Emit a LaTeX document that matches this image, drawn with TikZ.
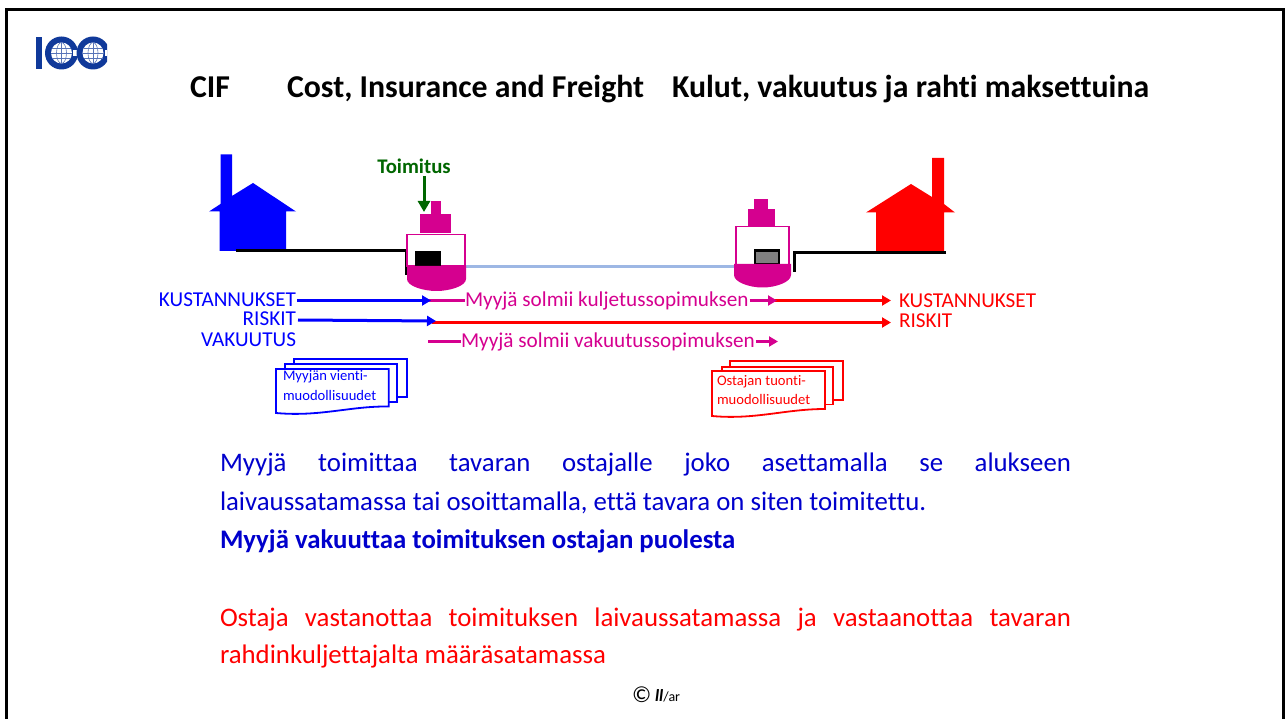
\documentclass[tikz,border=0pt]{standalone}
\usepackage{fontspec}
\setmainfont[Ligatures=NoCommon]{Carlito}
\usetikzlibrary{arrows.meta}
\definecolor{magent}{HTML}{D5008F}
\definecolor{lblue}{HTML}{0000FF}
\definecolor{bodyblue}{HTML}{0000CC}
\definecolor{lred}{HTML}{FF0000}
\definecolor{grn}{HTML}{006600}
\definecolor{seablue}{HTML}{9DB7E4}
\definecolor{iccblue}{HTML}{10399A}
\newcommand{\fsz}[1]{\fontsize{#1}{#1}\selectfont}
\tikzset{
  x=1pt,y=-1pt,
  txt/.style={inner sep=0pt,outer sep=0pt},
  titletxt/.style={txt,anchor=base west,font=\fsz{31.8}\bfseries,text=black},
  bodytxt/.style={txt,anchor=base west,font=\fsz{26.8}},
  lab/.style={txt,font=\fsz{21.2}},
  tip/.style={-{Triangle[length=9pt,width=10pt]}},
  thickline/.style={line width=3pt},
  ground/.style={line width=3pt,black,line join=miter},
  docline/.style={line width=1.8pt,fill=white,line join=miter},
  doctxt/.style={txt,anchor=base west,font=\fsz{14.6}},
}
\begin{document}
\begin{tikzpicture}
\useasboundingbox (0,0) rectangle (1288,719);
% frame
\draw[line width=3.2pt,black] (6.5,719) -- (6.5,9.5) -- (1283.5,9.5) -- (1283.5,719);
% logo
\fill[iccblue] (35.5,37) rectangle (41.5,69);
\begin{scope}
\clip (43,30) rectangle (107,75);
\foreach \cx in {61.5,93}{
  \fill[iccblue] (\cx,53) circle[radius=16.5];
  \fill[white] (\cx,53) circle[radius=10.5];
  \draw[iccblue!70,line width=.6pt] (\cx,53) circle[x radius=5,y radius=10.5];
  \draw[iccblue!70,line width=.6pt] (\cx,42.5) -- (\cx,63.5) (\cx-10.5,53) -- (\cx+10.5,53)
     (\cx-9.5,48) -- (\cx+9.5,48) (\cx-9.5,58) -- (\cx+9.5,58);
  \fill[white] (\cx+11.5,50) rectangle (\cx+18,56);
}
\end{scope}
% title
\node[titletxt] (cif) at (190,98) {CIF};
\node[titletxt] (cost) at (287,98) {Cost, Insurance and Freight};
\node[titletxt] (kulut) at (672,98) {Kulut, vakuutus ja rahti maksettuina};
% seller house
\fill[lblue] (220.5,154.5) -- (232,154.5) -- (232,196) -- (253,183) -- (296,211.5) -- (286,211.5) -- (286,251) -- (219.5,251) -- (219.5,211.5) -- (209,211.5) -- (220.5,204) -- cycle;
% buyer house
\fill[lred] (932,158) -- (944,158) -- (944,204) -- (955,212.5) -- (944,212.5) -- (944,254) -- (876,254) -- (876,212.5) -- (866,212.5) -- (911,184) -- (932,197) -- cycle;
% grounds
\coordinate (gl1) at (236,250.5);
\coordinate (gl2) at (406,250.5);
\coordinate (gl3) at (406,275);
\draw[ground] (gl1) -- (gl2) -- (gl3);
\coordinate (gr1) at (946,253);
\coordinate (gr2) at (794.5,253);
\coordinate (gr3) at (794.5,272);
\draw[ground] (gr1) -- (gr2) -- (gr3);
% sea route
\coordinate (sea1) at (465,267);
\coordinate (sea2) at (735,267);
\draw[line width=3pt,seablue] (sea1) -- (sea2);
% ship 1
\fill[magent] (431,201) rectangle (440.5,215);
\fill[magent] (420,214.5) rectangle (450.5,233.5);
\draw[magent,line width=1.2pt,fill=white] (407,234.5) rectangle (465,266);
\fill[black] (414.5,251) rectangle (441,266);
\fill[magent] (407,266) -- (466,266) -- (466,279) .. controls (466,286) and (450,291) .. (436.5,291) .. controls (423,291) and (407,286) .. (407,279) -- cycle;
% ship 2
\fill[magent] (754,199) rectangle (768,209.5);
\fill[magent] (747.5,209) rectangle (775,226.5);
\draw[magent,line width=1.2pt,fill=white] (736,226.5) rectangle (789,265);
\draw[black,line width=2.6pt,fill=gray] (755,250.5) rectangle (779,264);
\fill[magent] (734,264) -- (791,264) -- (791,275) .. controls (791,282) and (776,287.5) .. (762.5,287.5) .. controls (749,287.5) and (734,282) .. (734,275) -- cycle;
% Toimitus
\node[txt,font=\fsz{20.8}\bfseries,text=grn] (toim) at (414,166) {Toimitus};
\coordinate (toimend) at (424,212);
\draw[grn,line width=3pt,-{Triangle[length=11pt,width=12pt]}] (424,176) -- (toimend);
% labels, left
\node[lab,text=lblue,anchor=base east] (kl) at (296,306.5) {KUSTANNUKSET};
\node[lab,text=lblue,anchor=base east] (rl) at (296,326) {RISKIT};
\node[lab,text=lblue,anchor=base east] (vl) at (296,346) {VAKUUTUS};
% labels, right
\node[lab,text=lred,anchor=base west] (kr) at (899,307.5) {KUSTANNUKSET};
\node[lab,text=lred,anchor=base west] (rr) at (899,328) {RISKIT};
% labels, centre
\node[lab,text=magent,anchor=base west] (kulj) at (465,306.5) {Myyjä solmii kuljetussopimuksen};
\node[lab,text=magent,anchor=base west] (vak) at (461,347.5) {Myyjä solmii vakuutussopimuksen};
% arrow coordinates
\coordinate (k1) at (431,300.5);
\coordinate (k2) at (777,300.5);
\coordinate (k3) at (891,300.5);
\coordinate (r1) at (436,321);
\coordinate (r2) at (432,322.5);
\coordinate (r3) at (891,322.5);
\coordinate (v0) at (428,342);
\coordinate (v2) at (778,341.5);
% rows: costs
\draw[magent,thickline] (429,300.5) -- (kulj.west |- k1);
\draw[lblue,thickline,tip] (kl.east |- k1) ++(1,0) -- (k1);
\draw[lred,thickline,tip] (775,300.5) -- (k3);
\draw[magent,thickline,tip] (kulj.east |- k2) ++(1,0) -- (k2);
% rows: risks
\draw[lred,thickline,tip] (r2) -- (r3);
\draw[lblue,thickline,tip] (rl.east |- r1) ++(2,-1) -- (r1);
% rows: insurance
\draw[magent,thickline] (v0) -- (vak.west |- v0);
\draw[magent,thickline,tip] (vak.east |- v2) ++(1,0) -- (v2);
% seller documents
\draw[lblue,docline] (294,358.7) -- (407,358.7) -- (407,396.7) -- (294,396.7) -- cycle;
\draw[lblue,docline] (285,364) -- (397,364) -- (397,402) -- (285,402) -- cycle;
\draw[lblue,docline] (276,369) -- (388.7,369) -- (388.7,406.5) .. controls (350,406) and (320,417) .. (276,413) -- cycle;
\node[doctxt,text=lblue] (dt1) at (283,381) {Myyjän vienti-};
\node[doctxt,text=lblue] (dt2) at (283,400) {muodollisuudet};
% buyer documents
\draw[lred,docline] (730,361) -- (843,361) -- (843,400) -- (730,400) -- cycle;
\draw[lred,docline] (722,367) -- (833,367) -- (833,404.5) -- (722,404.5) -- cycle;
\draw[lred,docline] (712,371) -- (825,371) -- (825,409) .. controls (785,409) and (755,420) .. (712,416) -- cycle;
\node[doctxt,text=lred] (ot1) at (717,385) {Ostajan tuonti-};
\node[doctxt,text=lred] (ot2) at (717,404) {muodollisuudet};
% body
\node[bodytxt,text=bodyblue] (b1) at (220,471) {\makebox[851pt][s]{Myyjä toimittaa tavaran ostajalle joko asettamalla se alukseen}};
\node[bodytxt,text=bodyblue] (b2) at (220,510) {laivaussatamassa tai osoittamalla, että tavara on siten toimitettu.};
\node[bodytxt,text=bodyblue,font=\fsz{26.8}\bfseries] (b3) at (220,548) {Myyjä vakuuttaa toimituksen ostajan puolesta};
\node[bodytxt,text=lred] (b4) at (220,626) {\makebox[851pt][s]{Ostaja vastanottaa toimituksen laivaussatamassa ja vastaanottaa tavaran}};
\node[bodytxt,text=lred] (b5) at (220,663) {rahdinkuljettajalta määräsatamassa};
% footer
\node[txt,anchor=base west,font=\fsz{23}] (copy) at (632,702) {©};
\node[txt,anchor=base west,font=\fsz{14}] (sign) at (655,701) {{\fsz{17}\textbf{\textit{ll}}}/ar};
\end{tikzpicture}
\end{document}
